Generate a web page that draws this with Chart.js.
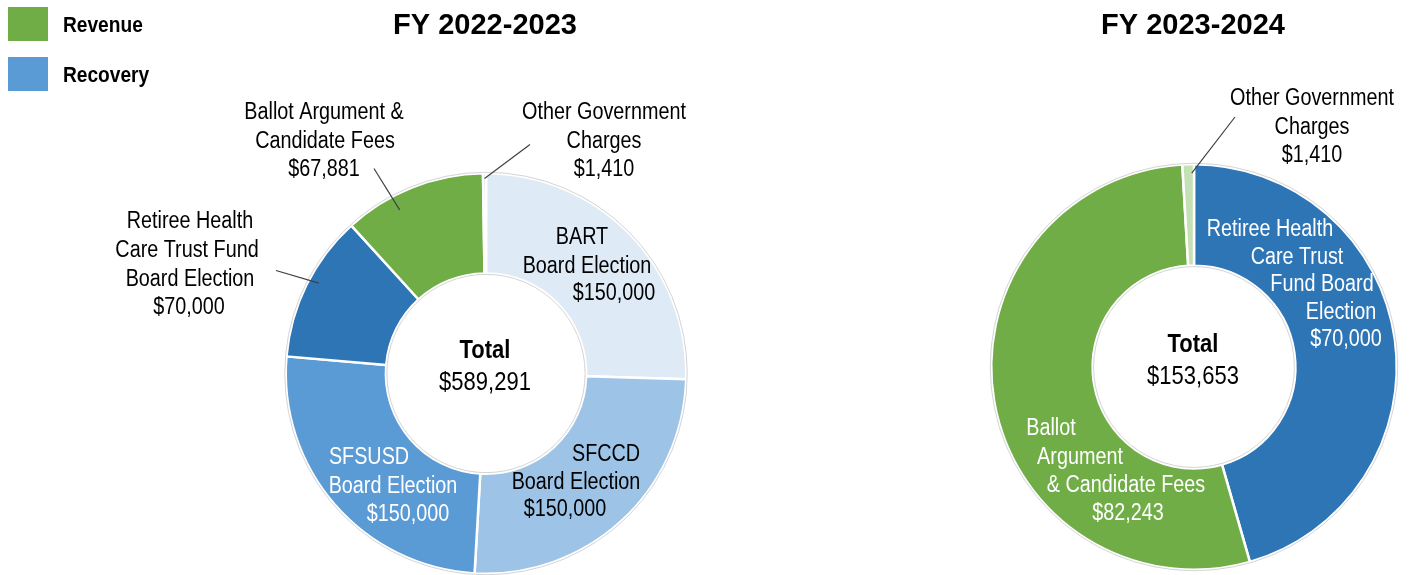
<!DOCTYPE html>
<html>
<head>
<meta charset="utf-8">
<script src="https://cdn.jsdelivr.net/npm/chart.js@4"></script>
<style>
  html, body { margin:0; padding:0; background:#fff; overflow:hidden; }
  #wrap { position:relative; width:1409px; height:575px; }
  canvas { position:absolute; top:0; }
</style>
</head>
<body>
<div id="wrap">
  <canvas id="fy23" width="700" height="575" style="left:0"></canvas>
  <canvas id="fy24" width="709" height="575" style="left:700px"></canvas>
</div>
<script>
// ─── data ────────────────────────────────────────────────────────────────────
const FY23_TITLE  = 'FY 2022-2023';
const FY23_LABELS = ['BART Board Election', 'SFCCD Board Election', 'SFSUSD Board Election',
                     'Retiree Health Care Trust Fund Board Election', 'Ballot Argument & Candidate Fees',
                     'Other Government Charges'];
const FY23_VALUES = [150000, 150000, 150000, 70000, 67881, 1410];

const FY24_TITLE  = 'FY 2023-2024';
const FY24_LABELS = ['Retiree Health Care Trust Fund Board Election', 'Ballot Argument & Candidate Fees',
                     'Other Government Charges'];
const FY24_VALUES = [70000, 82243, 1410];

const LEGEND_LABELS = ['Revenue', 'Recovery'];

// ─── styles ──────────────────────────────────────────────────────────────────
const C = { bart:'#DEEBF7', sfccd:'#9DC3E6', sfsusd:'#5B9BD5', retiree:'#2E75B6', ballot:'#70AD47', other:'#C5E0B4' };
const FY23_COLORS = [C.bart, C.sfccd, C.sfsusd, C.retiree, C.ballot, C.other];
const FY24_COLORS = [C.retiree, C.ballot, C.other];
const LEGEND_COLORS = ['#70AD47', '#5B9BD5'];
const FONT = '"Liberation Sans", Arial, sans-serif';
const NARROW = 0.86;

// label layout, offsets from the doughnut centre (last line = value)
const FY23_LAYOUT = [
  { lines:['BART','Board Election'], pos:[[96,-136],[101,-107],[128,-80]], color:'#000' },
  { lines:['SFCCD','Board Election'], pos:[[120,81],[90,109],[79,136]], color:'#000' },
  { lines:['SFSUSD','Board Election'], pos:[[-117,84],[-93,113],[-78,141]], color:'#fff' },
  { lines:['Retiree Health','Care Trust Fund','Board Election'], pos:[[-296,-152],[-299,-123],[-296,-94],[-297,-66]], color:'#000',
    leader:{ t:0.55, r:190, to:[-210,-103] } },
  { lines:['Ballot Argument &','Candidate Fees'], pos:[[-162,-261],[-161,-232],[-162,-204]], color:'#000',
    leader:{ t:0.35, r:185, to:[-112,-205] } },
  { lines:['Other Government','Charges'], pos:[[118,-261],[118,-232],[118,-204]], color:'#000',
    leader:{ t:0.5, r:195, to:[44,-229] } }
];
const FY24_LAYOUT = [
  { lines:['Retiree Health','Care Trust','Fund Board','Election'], pos:[[76,-137],[103,-109],[128,-82],[147,-54],[152,-27]], color:'#fff' },
  { lines:['Ballot','Argument','& Candidate Fees'], pos:[[-143,62],[-114,91],[-68,119],[-66,147]], color:'#fff' },
  { lines:['Other Government','Charges'], pos:[[118,-268],[118,-239],[118,-211]], color:'#000',
    leader:{ t:0.8, r:194, to:[41,-250] } }
];

function money(v) { return '$' + Number(v).toLocaleString('en-US'); }

function narrowText(ctx, text, x, y, sx) {
  ctx.save();
  ctx.translate(x, y);
  ctx.scale(sx, 1);
  ctx.fillText(text, 0, 0);
  ctx.restore();
}

// ── label plugin ─────────────────────────────────────────────────────────────
const donutLabels = {
  id: 'donutLabels',
  afterDatasetsDraw(chart, args, opts) {
    const ctx = chart.ctx;
    const arcs = chart.getDatasetMeta(0).data;
    const { x: cx, y: cy, outerRadius, innerRadius } = arcs[0].getProps(['x','y','outerRadius','innerRadius'], true);
    const values = chart.data.datasets[0].data;

    // faint rim
    ctx.save();
    ctx.strokeStyle = '#d4d4d4';
    ctx.lineWidth = 1;
    ctx.beginPath(); ctx.arc(cx, cy, outerRadius + 1, 0, Math.PI * 2); ctx.stroke();
    ctx.beginPath(); ctx.arc(cx, cy, innerRadius - 1, 0, Math.PI * 2); ctx.stroke();
    ctx.restore();

    ctx.save();
    ctx.textAlign = 'center';
    ctx.textBaseline = 'middle';
    ctx.font = '23px ' + FONT;
    opts.layout.forEach((lay, i) => {
      const a = arcs[i].getProps(['startAngle','endAngle'], true);
      if (lay.leader) {
        const ang = a.startAngle + (a.endAngle - a.startAngle) * lay.leader.t;
        ctx.strokeStyle = '#404040';
        ctx.lineWidth = 1.2;
        ctx.beginPath();
        ctx.moveTo(cx + Math.cos(ang) * lay.leader.r, cy + Math.sin(ang) * lay.leader.r);
        ctx.lineTo(cx + lay.leader.to[0], cy + lay.leader.to[1]);
        ctx.stroke();
      }
      ctx.fillStyle = lay.color;
      const lines = lay.lines.concat([money(values[i])]);
      lines.forEach((t, k) => narrowText(ctx, t, cx + lay.pos[k][0], cy + lay.pos[k][1], NARROW));
    });

    // total in the hole
    const total = values.reduce((s, v) => s + v, 0);
    ctx.fillStyle = '#000';
    ctx.font = 'bold 25px ' + FONT;
    narrowText(ctx, 'Total', cx - 1, cy - 22, 0.88);
    ctx.font = '25px ' + FONT;
    narrowText(ctx, money(total), cx - 1, cy + 10, 0.88);

    // title
    ctx.font = 'bold 29px ' + FONT;
    narrowText(ctx, opts.title, cx - 1, 26, 1.0);

    // legend
    if (opts.legend) {
      ctx.textAlign = 'left';
      ctx.font = 'bold 22px ' + FONT;
      LEGEND_LABELS.forEach((t, k) => {
        const top = 7 + k * 50;
        ctx.fillStyle = LEGEND_COLORS[k];
        ctx.fillRect(8, top, 40, 34);
        ctx.fillStyle = '#000';
        narrowText(ctx, t, 63, top + 19, 0.87);
      });
    }
    ctx.restore();
  }
};

function makeDonut(id, labels, values, colors, padding, layout, title, legend) {
  return new Chart(document.getElementById(id), {
    type: 'doughnut',
    data: { labels, datasets: [{ data: values, backgroundColor: colors, borderColor:'#fff', borderWidth:2.5 }] },
    options: {
      responsive:false, animation:false, cutout:'50%',
      layout:{ padding },
      plugins:{
        legend:{ display:false }, tooltip:{ enabled:false },
        donutLabels:{ layout, title, legend }
      }
    },
    plugins:[donutLabels]
  });
}

makeDonut('fy23', FY23_LABELS, FY23_VALUES, FY23_COLORS,
  { left:282, right:10, top:172, bottom:-5 }, FY23_LAYOUT, FY23_TITLE, true);
makeDonut('fy24', FY24_LABELS, FY24_VALUES, FY24_COLORS,
  { left:290, right:11, top:163, bottom:4 }, FY24_LAYOUT, FY24_TITLE, false);
</script>
</body>
</html>
